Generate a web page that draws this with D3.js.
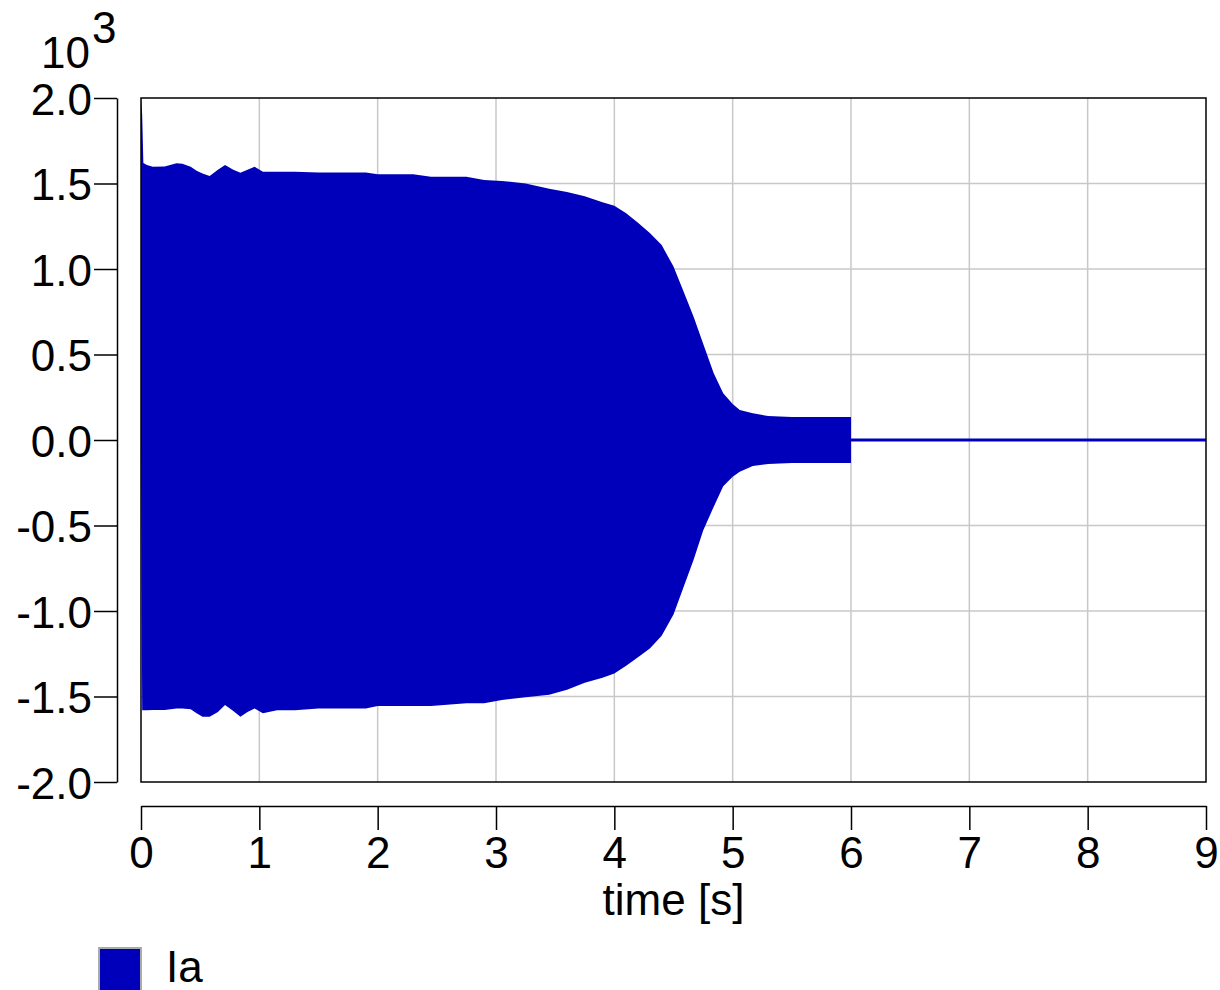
<!DOCTYPE html>
<html>
<head>
<meta charset="utf-8">
<script src="https://cdn.jsdelivr.net/npm/d3@7"></script>
<style>
  body { margin: 0; background: #fff; }
  svg text { font-family: 'Liberation Sans', Arial, sans-serif; fill: #000; }
</style>
</head>
<body>
<div id="chart"></div>
<script>
// envelope of Ia (values in 10^3)
const envTime  = [0, 0.01, 0.02, 0.05, 0.1, 0.2, 0.3, 0.35, 0.42, 0.47,
                  0.52, 0.58, 0.65, 0.71, 0.78, 0.84, 0.9, 0.96, 1.03, 1.15,
                  1.3, 1.5, 1.9, 2.0, 2.3, 2.45, 2.75, 2.9, 3.05, 3.25,
                  3.45, 3.6, 3.75, 3.9, 4.0, 4.1, 4.2, 4.3, 4.4, 4.5,
                  4.58, 4.67, 4.75, 4.84, 4.92, 5.0, 5.06, 5.17, 5.3, 5.5, 6.0]
const envUpper = [2.0, 1.90, 1.62, 1.608, 1.598, 1.60, 1.618, 1.615, 1.598, 1.575,
                  1.559, 1.544, 1.58, 1.608, 1.58, 1.563, 1.58, 1.598, 1.569, 1.569,
                  1.569, 1.565, 1.565, 1.554, 1.554, 1.54, 1.54, 1.52, 1.515, 1.50,
                  1.47, 1.45, 1.425, 1.39, 1.37, 1.326, 1.27, 1.21, 1.14, 1.014,
                  0.877, 0.721, 0.565, 0.39, 0.273, 0.21, 0.175, 0.156, 0.14, 0.135, 0.135]
const envLower = [0.0, -1.58, -1.58, -1.58, -1.579, -1.579, -1.57, -1.57, -1.575, -1.598,
                  -1.618, -1.618, -1.59, -1.55, -1.585, -1.618, -1.59, -1.57, -1.598, -1.58,
                  -1.58, -1.57, -1.57, -1.555, -1.555, -1.555, -1.54, -1.54, -1.52, -1.505,
                  -1.49, -1.46, -1.42, -1.39, -1.365, -1.32, -1.27, -1.22, -1.145, -1.02,
                  -0.87, -0.70, -0.53, -0.39, -0.27, -0.215, -0.185, -0.152, -0.14, -0.135, -0.135]
// after 6 s the current is zero
const tailTime  = [6.0, 9.0]
const tailValue = [0, 0]

const xTicks = [0, 1, 2, 3, 4, 5, 6, 7, 8, 9]
const yTicks = [-2.0, -1.5, -1.0, -0.5, 0.0, 0.5, 1.0, 1.5, 2.0]
const seriesName = 'Ia'

const chartWidth = 1220
const chartHeight = 990
const plotLeft = 141, plotRight = 1206, plotTop = 98, plotBottom = 782
const blue = '#0000bb'
const fontSize = 44

let svg = d3.select('#chart')
            .append('svg')
            .attr('width', chartWidth)
            .attr('height', chartHeight)

let xScale = d3.scaleLinear().domain([0, 9]).range([plotLeft, plotRight])
let yScale = d3.scaleLinear().domain([-2, 2]).range([plotBottom, plotTop])

// grid
svg.append('g').selectAll('line')
  .data(xTicks.slice(1, -1))
  .enter().append('line')
  .attr('x1', d => xScale(d)).attr('x2', d => xScale(d))
  .attr('y1', plotTop).attr('y2', plotBottom)
  .attr('stroke', '#c8c8c8').attr('stroke-width', 1.5)

svg.append('g').selectAll('line')
  .data(yTicks.slice(1, -1))
  .enter().append('line')
  .attr('x1', plotLeft).attr('x2', plotRight)
  .attr('y1', d => yScale(d)).attr('y2', d => yScale(d))
  .attr('stroke', '#c8c8c8').attr('stroke-width', 1.5)

// envelope
let env = envTime.map((t, i) => ({ t: t, hi: envUpper[i], lo: envLower[i] }))
let area = d3.area()
  .x(d => xScale(d.t))
  .y0(d => yScale(d.lo))
  .y1(d => yScale(d.hi))

svg.append('path')
  .datum(env)
  .attr('d', area)
  .attr('fill', blue)

let tail = tailTime.map((t, i) => ({ t: t, v: tailValue[i] }))
svg.append('path')
  .datum(tail)
  .attr('d', d3.line().x(d => xScale(d.t)).y(d => yScale(d.v)))
  .attr('stroke', blue)
  .attr('stroke-width', 3)
  .attr('fill', 'none')

// plot frame
svg.append('rect')
  .attr('x', plotLeft).attr('y', plotTop)
  .attr('width', plotRight - plotLeft).attr('height', plotBottom - plotTop)
  .attr('fill', 'none').attr('stroke', '#000').attr('stroke-width', 1.5)

// y axis
let yAxis = d3.axisLeft(yScale)
  .tickValues(yTicks)
  .tickSizeInner(23)
  .tickSizeOuter(0)
  .tickPadding(2)
  .tickFormat(d => d.toFixed(1))

let gy = svg.append('g')
  .attr('transform', 'translate(117,0)')
  .call(yAxis)
gy.selectAll('path, line').attr('stroke', '#000').attr('stroke-width', 1.5)
gy.selectAll('text').attr('font-size', fontSize).attr('font-family', null).attr('dy', '0.37em')

// x axis
let xAxis = d3.axisBottom(xScale)
  .tickValues(xTicks)
  .tickSizeInner(24)
  .tickSizeOuter(0)
  .tickPadding(7)
  .tickFormat(d3.format('d'))

let gx = svg.append('g')
  .attr('transform', 'translate(0,806)')
  .call(xAxis)
gx.selectAll('path, line').attr('stroke', '#000').attr('stroke-width', 1.5)
gx.selectAll('text').attr('font-size', fontSize).attr('font-family', null)

svg.append('text')
  .attr('x', (plotLeft + plotRight) / 2)
  .attr('y', 915)
  .attr('text-anchor', 'middle')
  .attr('font-size', fontSize)
  .text('time [s]')

// exponent label
let expo = svg.append('text')
  .attr('x', 41)
  .attr('y', 68)
  .attr('font-size', fontSize)
expo.append('tspan').text('10')
expo.append('tspan').attr('dx', 2).attr('dy', -25).text('3')

// legend
svg.append('rect')
  .attr('x', 99).attr('y', 948)
  .attr('width', 42).attr('height', 44)
  .attr('fill', blue)
  .attr('stroke', '#aaa').attr('stroke-width', 2)

svg.append('text')
  .attr('x', 166)
  .attr('y', 982)
  .attr('font-size', fontSize)
  .text(seriesName)
</script>
</body>
</html>
